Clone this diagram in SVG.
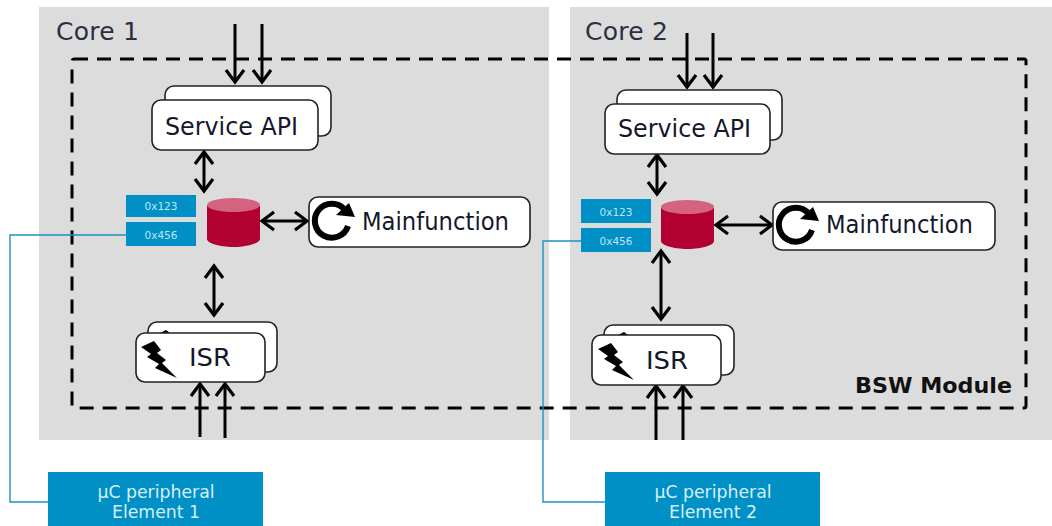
<svg xmlns="http://www.w3.org/2000/svg" width="1052" height="526" viewBox="0 0 1052 526">
<style>
.core{fill:#dcdcdc}
.box{fill:#fff;stroke:#222;stroke-width:1.6}
.t{font-family:"DejaVu Sans",Verdana,sans-serif;fill:#14182c}
.lbl{font-size:24px}
.core-t{font-size:25px;fill:#2a3040}
.blue{fill:#0090c5}
.hex{font-family:"DejaVu Sans",sans-serif;font-size:10.500px;fill:#bfe6f5;text-anchor:middle}
.per{font-family:"DejaVu Sans",sans-serif;font-size:17.300px;fill:#d4eff9;text-anchor:middle}
.ar{fill:none;stroke:#000;stroke-width:3;marker-end:url(#h)}
.bi{fill:none;stroke:#000;stroke-width:3;marker-end:url(#h);marker-start:url(#h)}
.wire{fill:none;stroke:#1d93c0;stroke-width:1.4}
</style>
<defs>
<marker id="h" viewBox="0 0 20 22" refX="17" refY="11" markerUnits="userSpaceOnUse" markerWidth="20" markerHeight="22" orient="auto-start-reverse"><path d="M5 2L17 11L5 20" fill="none" stroke="#000" stroke-width="3.200"/></marker>
<g id="cyl"><path d="M0 8V41C0 45 12 49 26.500 49S53 45 53 41V8Z" fill="#b30033"/><ellipse cx="26.500" cy="7" rx="26.500" ry="7" fill="#d4637f"/></g>
<path id="bolt" d="M0 6L13 0L20 9L16 12L25 19L21 22L36 37L14 27L18 23L6 16L10 13Z" fill="#000"/>
<g id="refresh"><path d="M33 9A17 17 0 1 0 36 25" fill="none" stroke="#000" stroke-width="6"/><path d="M24 14L43 16L37 2Z" fill="#000"/></g>
</defs>
<rect width="1052" height="526" fill="#fff"/>
<rect class="core" x="39" y="7" width="510" height="433"/>
<rect class="core" x="570" y="7" width="482" height="433"/>
<text class="t core-t" x="56" y="40" textLength="83">Core 1</text>
<text class="t core-t" x="585" y="40" textLength="83">Core 2</text>
<rect id="bsw-frame" x="72" y="59" width="954" height="349" rx="2" fill="none" stroke="#000" stroke-width="3" stroke-dasharray="14 9"/>
<text id="bsw-label" x="855" y="393" font-family="'DejaVu Sans',Verdana,sans-serif" font-weight="bold" font-size="21px" fill="#111" textLength="157" lengthAdjust="spacingAndGlyphs">BSW Module</text>

<g id="connectors">
<path class="wire" d="M126 235H10V502H48"/>
<path class="wire" d="M581 241H543V502H605"/>
<path class="ar" d="M235 24V82"/><path class="ar" d="M262 24V82"/>
<path class="bi" d="M204 152V191"/><path class="bi" d="M262 221H307"/><path class="bi" d="M214 266V315"/>
<path class="ar" d="M200 437V384"/><path class="ar" d="M225 438V384"/>
<path class="ar" d="M687 33V87"/><path class="ar" d="M713 33V87"/>
<path class="bi" d="M657 155V194"/><path class="bi" d="M716 225H772"/><path class="bi" d="M661 251V319"/>
<path class="ar" d="M656 440V386"/><path class="ar" d="M683 440V386"/>
</g>

<g id="service-api-1"><rect class="box" x="165" y="86" width="166" height="50" rx="9"/><rect class="box" x="152" y="100" width="166" height="50" rx="9"/><text class="t lbl" x="165" y="135" textLength="133" lengthAdjust="spacingAndGlyphs">Service API</text></g>
<g id="queue-1"><rect class="blue" x="126" y="195" width="70" height="22"/><text class="hex" x="161" y="210">0x123</text><rect class="blue" x="126" y="222" width="70" height="24"/><text class="hex" x="161" y="239">0x456</text></g>
<g id="buffer-1"><use href="#cyl" x="207" y="198"/></g>
<g id="mainfunction-1"><rect class="box" x="309" y="197" width="221" height="50" rx="9"/><use href="#refresh" x="312" y="201"/><text class="t lbl" x="362" y="230" textLength="147" lengthAdjust="spacingAndGlyphs">Mainfunction</text></g>
<g id="isr-1"><rect class="box" x="148" y="322" width="129" height="50" rx="9"/><path d="M160 333l6-3 4 3z" fill="#000"/><rect class="box" x="136" y="333" width="129" height="49" rx="9"/><use href="#bolt" x="141" y="341"/><text class="t lbl" x="189" y="366" textLength="42" lengthAdjust="spacingAndGlyphs">ISR</text></g>
<g id="peripheral-1"><rect class="blue" x="48" y="472" width="215" height="54"/><text class="per" x="156" y="498">µC peripheral</text><text class="per" x="156" y="518">Element 1</text></g>

<g id="service-api-2"><rect class="box" x="617" y="90" width="165" height="50" rx="9"/><rect class="box" x="605" y="104" width="165" height="50" rx="9"/><text class="t lbl" x="618" y="137" textLength="133" lengthAdjust="spacingAndGlyphs">Service API</text></g>
<g id="queue-2"><rect class="blue" x="581" y="199" width="70" height="24"/><text class="hex" x="616" y="216">0x123</text><rect class="blue" x="581" y="228" width="70" height="24"/><text class="hex" x="616" y="245">0x456</text></g>
<g id="buffer-2"><use href="#cyl" x="661" y="200"/></g>
<g id="mainfunction-2"><rect class="box" x="773" y="202" width="222" height="48" rx="9"/><use href="#refresh" x="776" y="205"/><text class="t lbl" x="826" y="233" textLength="147" lengthAdjust="spacingAndGlyphs">Mainfunction</text></g>
<g id="isr-2"><rect class="box" x="604" y="325" width="130" height="50" rx="9"/><path d="M618 335l6-3 4 3z" fill="#000"/><rect class="box" x="592" y="335" width="129" height="50" rx="9"/><use href="#bolt" x="598" y="343"/><text class="t lbl" x="646" y="369" textLength="42" lengthAdjust="spacingAndGlyphs">ISR</text></g>
<g id="peripheral-2"><rect class="blue" x="605" y="472" width="215" height="54"/><text class="per" x="713" y="498">µC peripheral</text><text class="per" x="713" y="518">Element 2</text></g>
</svg>
